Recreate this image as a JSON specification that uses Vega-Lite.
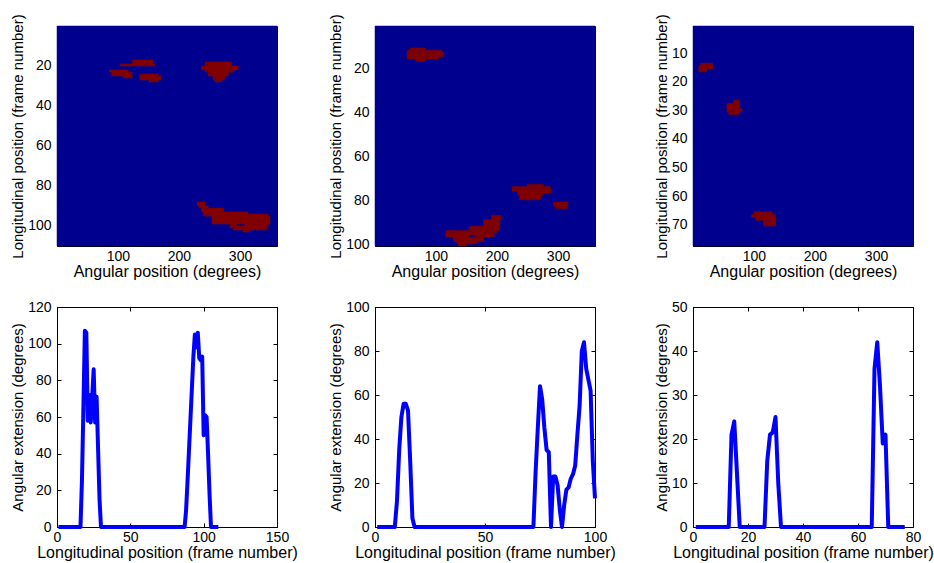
{
"$schema": "https://vega.github.io/schema/vega-lite/v6.json",
"background": "white",
"padding": {"left": 10, "top": 13, "right": 5, "bottom": 5},
"config": {
  "font": "Liberation Sans",
  "view": {"stroke": "#000", "strokeWidth": 1},
  "axis": {"labelFont": "Liberation Sans", "titleFont": "Liberation Sans", "labelFontSize": 14, "titleFontSize": 15, "titleFontWeight": "normal", "labelColor": "#000", "titleColor": "#000", "domainColor": "#000", "tickColor": "#000", "tickSize": -4, "grid": false, "labelFlush": false, "labelOverlap": false},
  "axisX": {"labelPadding": 7, "titlePadding": 0, "titleFontSize": 16},
  "axisY": {"labelPadding": 10, "titlePadding": 2}
},
"datasets": {
  "img1": [
    {"a0":0.5,"a1":360.5,"f0":0.5,"f1":110.5,"v":0},
    {"a0":124,"a1":158,"f0":17.5,"f1":19.5,"v":1},
    {"a0":104,"a1":161,"f0":19.5,"f1":20.5,"v":1},
    {"a0":86,"a1":117,"f0":22.5,"f1":23.5,"v":1},
    {"a0":90,"a1":123,"f0":23.5,"f1":25.5,"v":1},
    {"a0":109,"a1":124,"f0":25.5,"f1":26.5,"v":1},
    {"a0":136,"a1":166,"f0":24.5,"f1":25.5,"v":1},
    {"a0":136,"a1":171,"f0":25.5,"f1":27.5,"v":1},
    {"a0":151,"a1":166,"f0":27.5,"f1":28.5,"v":1},
    {"a0":243,"a1":286,"f0":18.5,"f1":20.5,"v":1},
    {"a0":237,"a1":297,"f0":20.5,"f1":22.5,"v":1},
    {"a0":243,"a1":289,"f0":22.5,"f1":23.5,"v":1},
    {"a0":248,"a1":281,"f0":23.5,"f1":25.5,"v":1},
    {"a0":256,"a1":275,"f0":25.5,"f1":27.5,"v":1},
    {"a0":259,"a1":270,"f0":27.5,"f1":28.5,"v":1},
    {"a0":230,"a1":243,"f0":88.5,"f1":90.5,"v":1},
    {"a0":233,"a1":248,"f0":90.5,"f1":91.5,"v":1},
    {"a0":237,"a1":273,"f0":91.5,"f1":93.5,"v":1},
    {"a0":240,"a1":313,"f0":93.5,"f1":94.5,"v":1},
    {"a0":240,"a1":346,"f0":94.5,"f1":95.5,"v":1},
    {"a0":254,"a1":349,"f0":95.5,"f1":99.5,"v":1},
    {"a0":284,"a1":294,"f0":99.5,"f1":100.5,"v":1},
    {"a0":308,"a1":346,"f0":99.5,"f1":100.5,"v":1},
    {"a0":284,"a1":346,"f0":100.5,"f1":101.5,"v":1},
    {"a0":289,"a1":344,"f0":101.5,"f1":102.5,"v":1},
    {"a0":305,"a1":316,"f0":102.5,"f1":103.5,"v":1}
  ],
  "img2": [
    {"a0":0.5,"a1":360.5,"f0":0.5,"f1":100.5,"v":0},
    {"a0":58,"a1":83,"f0":10.5,"f1":11.5,"v":1},
    {"a0":53,"a1":110,"f0":11.5,"f1":12.5,"v":1},
    {"a0":53,"a1":113,"f0":12.5,"f1":14.5,"v":1},
    {"a0":53,"a1":105,"f0":14.5,"f1":15.5,"v":1},
    {"a0":67,"a1":83,"f0":15.5,"f1":16.5,"v":1},
    {"a0":250,"a1":276,"f0":72.5,"f1":73.5,"v":1},
    {"a0":225,"a1":287,"f0":73.5,"f1":74.5,"v":1},
    {"a0":225,"a1":289,"f0":74.5,"f1":75.5,"v":1},
    {"a0":234,"a1":289,"f0":75.5,"f1":76.5,"v":1},
    {"a0":234,"a1":276,"f0":76.5,"f1":77.5,"v":1},
    {"a0":237,"a1":272,"f0":77.5,"f1":79.5,"v":1},
    {"a0":293,"a1":316,"f0":80.5,"f1":82.5,"v":1},
    {"a0":296,"a1":315,"f0":82.5,"f1":83.5,"v":1},
    {"a0":191,"a1":207,"f0":86.5,"f1":88.5,"v":1},
    {"a0":178,"a1":205,"f0":88.5,"f1":91.5,"v":1},
    {"a0":155,"a1":204,"f0":91.5,"f1":93.5,"v":1},
    {"a0":117,"a1":200,"f0":93.5,"f1":94.5,"v":1},
    {"a0":116,"a1":195,"f0":94.5,"f1":95.5,"v":1},
    {"a0":116,"a1":155,"f0":95.5,"f1":96.5,"v":1},
    {"a0":165,"a1":195,"f0":95.5,"f1":96.5,"v":1},
    {"a0":129,"a1":178,"f0":96.5,"f1":98.5,"v":1},
    {"a0":135,"a1":168,"f0":98.5,"f1":99.5,"v":1},
    {"a0":137,"a1":150,"f0":99.5,"f1":100.5,"v":1}
  ],
  "img3": [
    {"a0":0.5,"a1":360.5,"f0":0.5,"f1":77.5,"v":0},
    {"a0":13,"a1":33,"f0":13.5,"f1":14.5,"v":1},
    {"a0":10,"a1":33,"f0":14.5,"f1":15.5,"v":1},
    {"a0":10,"a1":23,"f0":15.5,"f1":16.5,"v":1},
    {"a0":67,"a1":77,"f0":26.5,"f1":27.5,"v":1},
    {"a0":56,"a1":77,"f0":27.5,"f1":29.5,"v":1},
    {"a0":56,"a1":81,"f0":29.5,"f1":30.5,"v":1},
    {"a0":59,"a1":77,"f0":30.5,"f1":31.5,"v":1},
    {"a0":100,"a1":130,"f0":65.5,"f1":66.5,"v":1},
    {"a0":96,"a1":136,"f0":66.5,"f1":67.5,"v":1},
    {"a0":103,"a1":136,"f0":67.5,"f1":68.5,"v":1},
    {"a0":116,"a1":136,"f0":68.5,"f1":70.5,"v":1}
  ],
  "ext1": [
    {"frame":1,"ext":0},{"frame":2,"ext":0},{"frame":3,"ext":0},{"frame":4,"ext":0},{"frame":5,"ext":0},{"frame":6,"ext":0},{"frame":7,"ext":0},{"frame":8,"ext":0},{"frame":9,"ext":0},{"frame":10,"ext":0},
    {"frame":11,"ext":0},{"frame":12,"ext":0},{"frame":13,"ext":0},{"frame":14,"ext":0},{"frame":15,"ext":0},{"frame":16,"ext":0},{"frame":17,"ext":25},{"frame":18,"ext":65},{"frame":19,"ext":107},{"frame":20,"ext":106},
    {"frame":21,"ext":58},{"frame":22,"ext":72},{"frame":23,"ext":57},{"frame":24,"ext":71},{"frame":25,"ext":86},{"frame":26,"ext":57},{"frame":27,"ext":71},{"frame":28,"ext":43},{"frame":29,"ext":15},{"frame":30,"ext":0},
    {"frame":31,"ext":0},{"frame":32,"ext":0},{"frame":33,"ext":0},{"frame":34,"ext":0},{"frame":35,"ext":0},{"frame":36,"ext":0},{"frame":37,"ext":0},{"frame":38,"ext":0},{"frame":39,"ext":0},{"frame":40,"ext":0},
    {"frame":41,"ext":0},{"frame":42,"ext":0},{"frame":43,"ext":0},{"frame":44,"ext":0},{"frame":45,"ext":0},{"frame":46,"ext":0},{"frame":47,"ext":0},{"frame":48,"ext":0},{"frame":49,"ext":0},{"frame":50,"ext":0},
    {"frame":51,"ext":0},{"frame":52,"ext":0},{"frame":53,"ext":0},{"frame":54,"ext":0},{"frame":55,"ext":0},{"frame":56,"ext":0},{"frame":57,"ext":0},{"frame":58,"ext":0},{"frame":59,"ext":0},{"frame":60,"ext":0},
    {"frame":61,"ext":0},{"frame":62,"ext":0},{"frame":63,"ext":0},{"frame":64,"ext":0},{"frame":65,"ext":0},{"frame":66,"ext":0},{"frame":67,"ext":0},{"frame":68,"ext":0},{"frame":69,"ext":0},{"frame":70,"ext":0},
    {"frame":71,"ext":0},{"frame":72,"ext":0},{"frame":73,"ext":0},{"frame":74,"ext":0},{"frame":75,"ext":0},{"frame":76,"ext":0},{"frame":77,"ext":0},{"frame":78,"ext":0},{"frame":79,"ext":0},{"frame":80,"ext":0},
    {"frame":81,"ext":0},{"frame":82,"ext":0},{"frame":83,"ext":0},{"frame":84,"ext":0},{"frame":85,"ext":0},{"frame":86,"ext":0},{"frame":87,"ext":0},{"frame":88,"ext":9},{"frame":89,"ext":25},{"frame":90,"ext":42},
    {"frame":91,"ext":59},{"frame":92,"ext":76},{"frame":93,"ext":93},{"frame":94,"ext":105},{"frame":95,"ext":98},{"frame":96,"ext":106},{"frame":97,"ext":92},{"frame":98,"ext":91},{"frame":99,"ext":93},{"frame":100,"ext":50},
    {"frame":101,"ext":61},{"frame":102,"ext":60},{"frame":103,"ext":40},{"frame":104,"ext":18},{"frame":105,"ext":0},{"frame":106,"ext":0},{"frame":107,"ext":0},{"frame":108,"ext":0},{"frame":109,"ext":0},{"frame":110,"ext":0}
  ],
  "ext2": [
    {"frame":1,"ext":0},{"frame":2,"ext":0},{"frame":3,"ext":0},{"frame":4,"ext":0},{"frame":5,"ext":0},{"frame":6,"ext":0},{"frame":7,"ext":0},{"frame":8,"ext":0},{"frame":9,"ext":0},{"frame":10,"ext":12},
    {"frame":11,"ext":35},{"frame":12,"ext":50},{"frame":13,"ext":56},{"frame":14,"ext":56},{"frame":15,"ext":53},{"frame":16,"ext":30},{"frame":17,"ext":4},{"frame":18,"ext":0},{"frame":19,"ext":0},{"frame":20,"ext":0},
    {"frame":21,"ext":0},{"frame":22,"ext":0},{"frame":23,"ext":0},{"frame":24,"ext":0},{"frame":25,"ext":0},{"frame":26,"ext":0},{"frame":27,"ext":0},{"frame":28,"ext":0},{"frame":29,"ext":0},{"frame":30,"ext":0},
    {"frame":31,"ext":0},{"frame":32,"ext":0},{"frame":33,"ext":0},{"frame":34,"ext":0},{"frame":35,"ext":0},{"frame":36,"ext":0},{"frame":37,"ext":0},{"frame":38,"ext":0},{"frame":39,"ext":0},{"frame":40,"ext":0},
    {"frame":41,"ext":0},{"frame":42,"ext":0},{"frame":43,"ext":0},{"frame":44,"ext":0},{"frame":45,"ext":0},{"frame":46,"ext":0},{"frame":47,"ext":0},{"frame":48,"ext":0},{"frame":49,"ext":0},{"frame":50,"ext":0},
    {"frame":51,"ext":0},{"frame":52,"ext":0},{"frame":53,"ext":0},{"frame":54,"ext":0},{"frame":55,"ext":0},{"frame":56,"ext":0},{"frame":57,"ext":0},{"frame":58,"ext":0},{"frame":59,"ext":0},{"frame":60,"ext":0},
    {"frame":61,"ext":0},{"frame":62,"ext":0},{"frame":63,"ext":0},{"frame":64,"ext":0},{"frame":65,"ext":0},{"frame":66,"ext":0},{"frame":67,"ext":0},{"frame":68,"ext":0},{"frame":69,"ext":0},{"frame":70,"ext":0},
    {"frame":71,"ext":0},{"frame":72,"ext":0},{"frame":73,"ext":25},{"frame":74,"ext":45},{"frame":75,"ext":64},{"frame":76,"ext":58},{"frame":77,"ext":45},{"frame":78,"ext":35},{"frame":79,"ext":34},{"frame":80,"ext":0},
    {"frame":81,"ext":23},{"frame":82,"ext":23},{"frame":83,"ext":19},{"frame":84,"ext":8},{"frame":85,"ext":0},{"frame":86,"ext":10},{"frame":87,"ext":17},{"frame":88,"ext":18},{"frame":89,"ext":22},{"frame":90,"ext":24},
    {"frame":91,"ext":28},{"frame":92,"ext":42},{"frame":93,"ext":55},{"frame":94,"ext":80},{"frame":95,"ext":84},{"frame":96,"ext":72},{"frame":97,"ext":67},{"frame":98,"ext":62},{"frame":99,"ext":30},{"frame":100,"ext":13}
  ],
  "ext3": [
    {"frame":1,"ext":0},{"frame":2,"ext":0},{"frame":3,"ext":0},{"frame":4,"ext":0},{"frame":5,"ext":0},{"frame":6,"ext":0},{"frame":7,"ext":0},{"frame":8,"ext":0},{"frame":9,"ext":0},{"frame":10,"ext":0},
    {"frame":11,"ext":0},{"frame":12,"ext":0},{"frame":13,"ext":0},{"frame":14,"ext":21},{"frame":15,"ext":24},{"frame":16,"ext":12},{"frame":17,"ext":0},{"frame":18,"ext":0},{"frame":19,"ext":0},{"frame":20,"ext":0},
    {"frame":21,"ext":0},{"frame":22,"ext":0},{"frame":23,"ext":0},{"frame":24,"ext":0},{"frame":25,"ext":0},{"frame":26,"ext":0},{"frame":27,"ext":15},{"frame":28,"ext":21},{"frame":29,"ext":21.5},{"frame":30,"ext":25},
    {"frame":31,"ext":10},{"frame":32,"ext":0},{"frame":33,"ext":0},{"frame":34,"ext":0},{"frame":35,"ext":0},{"frame":36,"ext":0},{"frame":37,"ext":0},{"frame":38,"ext":0},{"frame":39,"ext":0},{"frame":40,"ext":0},
    {"frame":41,"ext":0},{"frame":42,"ext":0},{"frame":43,"ext":0},{"frame":44,"ext":0},{"frame":45,"ext":0},{"frame":46,"ext":0},{"frame":47,"ext":0},{"frame":48,"ext":0},{"frame":49,"ext":0},{"frame":50,"ext":0},
    {"frame":51,"ext":0},{"frame":52,"ext":0},{"frame":53,"ext":0},{"frame":54,"ext":0},{"frame":55,"ext":0},{"frame":56,"ext":0},{"frame":57,"ext":0},{"frame":58,"ext":0},{"frame":59,"ext":0},{"frame":60,"ext":0},
    {"frame":61,"ext":0},{"frame":62,"ext":0},{"frame":63,"ext":0},{"frame":64,"ext":0},{"frame":65,"ext":0},{"frame":66,"ext":36},{"frame":67,"ext":42},{"frame":68,"ext":32},{"frame":69,"ext":19},{"frame":70,"ext":21},
    {"frame":71,"ext":0},{"frame":72,"ext":0},{"frame":73,"ext":0},{"frame":74,"ext":0},{"frame":75,"ext":0},{"frame":76,"ext":0},{"frame":77,"ext":0}
  ]
},
"columns": 3,
"bounds": "flush",
"spacing": {"row": 61, "column": 98},
"concat": [
  {
    "width": 220, "height": 220,
    "data": {"name": "img1"},
    "layer": [
      {"mark": {"type": "rect", "strokeWidth": 0.5},
       "encoding": {
         "x": {"field": "a0", "type": "quantitative", "scale": {"domain": [0.5, 360.5], "nice": false, "zero": false}, "axis": {"values": [100, 200, 300], "title": "Angular position (degrees)"}},
         "x2": {"field": "a1"},
         "y": {"field": "f0", "type": "quantitative", "scale": {"domain": [0.5, 110.5], "reverse": true, "nice": false, "zero": false}, "axis": {"values": [20, 40, 60, 80, 100], "title": "Longitudinal position (frame number)"}},
         "y2": {"field": "f1"},
         "color": {"field": "v", "type": "nominal", "scale": {"domain": [0, 1], "range": ["#00008F", "#800000"]}, "legend": null},
         "stroke": {"field": "v", "type": "nominal", "scale": {"domain": [0, 1], "range": ["#00008F", "#800000"]}, "legend": null}
       }},
      {"mark": {"type": "rect", "opacity": 0},
       "encoding": {
         "x": {"field": "a0", "type": "quantitative", "axis": {"orient": "top", "values": [100, 200, 300], "labels": false, "title": null, "domain": false}},
         "x2": {"field": "a1"},
         "y": {"field": "f0", "type": "quantitative", "axis": {"orient": "right", "values": [20, 40, 60, 80, 100], "labels": false, "title": null, "domain": false}},
         "y2": {"field": "f1"}
       }}
    ],
    "resolve": {"axis": {"x": "independent", "y": "independent"}}
  },
  {
    "width": 220, "height": 220,
    "data": {"name": "img2"},
    "layer": [
      {"mark": {"type": "rect", "strokeWidth": 0.5},
       "encoding": {
         "x": {"field": "a0", "type": "quantitative", "scale": {"domain": [0.5, 360.5], "nice": false, "zero": false}, "axis": {"values": [100, 200, 300], "title": "Angular position (degrees)"}},
         "x2": {"field": "a1"},
         "y": {"field": "f0", "type": "quantitative", "scale": {"domain": [0.5, 100.5], "reverse": true, "nice": false, "zero": false}, "axis": {"values": [20, 40, 60, 80, 100], "title": "Longitudinal position (frame number)"}},
         "y2": {"field": "f1"},
         "color": {"field": "v", "type": "nominal", "scale": {"domain": [0, 1], "range": ["#00008F", "#800000"]}, "legend": null},
         "stroke": {"field": "v", "type": "nominal", "scale": {"domain": [0, 1], "range": ["#00008F", "#800000"]}, "legend": null}
       }},
      {"mark": {"type": "rect", "opacity": 0},
       "encoding": {
         "x": {"field": "a0", "type": "quantitative", "axis": {"orient": "top", "values": [100, 200, 300], "labels": false, "title": null, "domain": false}},
         "x2": {"field": "a1"},
         "y": {"field": "f0", "type": "quantitative", "axis": {"orient": "right", "values": [20, 40, 60, 80, 100], "labels": false, "title": null, "domain": false}},
         "y2": {"field": "f1"}
       }}
    ],
    "resolve": {"axis": {"x": "independent", "y": "independent"}}
  },
  {
    "width": 220, "height": 220,
    "data": {"name": "img3"},
    "layer": [
      {"mark": {"type": "rect", "strokeWidth": 0.5},
       "encoding": {
         "x": {"field": "a0", "type": "quantitative", "scale": {"domain": [0.5, 360.5], "nice": false, "zero": false}, "axis": {"values": [100, 200, 300], "title": "Angular position (degrees)"}},
         "x2": {"field": "a1"},
         "y": {"field": "f0", "type": "quantitative", "scale": {"domain": [0.5, 77.5], "reverse": true, "nice": false, "zero": false}, "axis": {"values": [10, 20, 30, 40, 50, 60, 70], "title": "Longitudinal position (frame number)"}},
         "y2": {"field": "f1"},
         "color": {"field": "v", "type": "nominal", "scale": {"domain": [0, 1], "range": ["#00008F", "#800000"]}, "legend": null},
         "stroke": {"field": "v", "type": "nominal", "scale": {"domain": [0, 1], "range": ["#00008F", "#800000"]}, "legend": null}
       }},
      {"mark": {"type": "rect", "opacity": 0},
       "encoding": {
         "x": {"field": "a0", "type": "quantitative", "axis": {"orient": "top", "values": [100, 200, 300], "labels": false, "title": null, "domain": false}},
         "x2": {"field": "a1"},
         "y": {"field": "f0", "type": "quantitative", "axis": {"orient": "right", "values": [10, 20, 30, 40, 50, 60, 70], "labels": false, "title": null, "domain": false}},
         "y2": {"field": "f1"}
       }}
    ],
    "resolve": {"axis": {"x": "independent", "y": "independent"}}
  },
  {
    "width": 220, "height": 220,
    "data": {"name": "ext1"},
    "layer": [
      {"mark": {"type": "line", "color": "#0000FF", "strokeWidth": 4, "strokeJoin": "round"},
       "encoding": {
         "x": {"field": "frame", "type": "quantitative", "scale": {"domain": [0, 150], "nice": false}, "axis": {"values": [0, 50, 100, 150], "title": "Longitudinal position (frame number)"}},
         "y": {"field": "ext", "type": "quantitative", "scale": {"domain": [0, 120], "nice": false}, "axis": {"values": [0, 20, 40, 60, 80, 100, 120], "title": "Angular extension (degrees)"}}
       }},
      {"mark": {"type": "line", "opacity": 0},
       "encoding": {
         "x": {"field": "frame", "type": "quantitative", "axis": {"orient": "top", "values": [0, 50, 100, 150], "labels": false, "title": null, "domain": false}},
         "y": {"field": "ext", "type": "quantitative", "axis": {"orient": "right", "values": [0, 20, 40, 60, 80, 100, 120], "labels": false, "title": null, "domain": false}}
       }}
    ],
    "resolve": {"axis": {"x": "independent", "y": "independent"}}
  },
  {
    "width": 220, "height": 220,
    "data": {"name": "ext2"},
    "layer": [
      {"mark": {"type": "line", "color": "#0000FF", "strokeWidth": 4, "strokeJoin": "round"},
       "encoding": {
         "x": {"field": "frame", "type": "quantitative", "scale": {"domain": [0, 100], "nice": false}, "axis": {"values": [0, 50, 100], "title": "Longitudinal position (frame number)"}},
         "y": {"field": "ext", "type": "quantitative", "scale": {"domain": [0, 100], "nice": false}, "axis": {"values": [0, 20, 40, 60, 80, 100], "title": "Angular extension (degrees)"}}
       }},
      {"mark": {"type": "line", "opacity": 0},
       "encoding": {
         "x": {"field": "frame", "type": "quantitative", "axis": {"orient": "top", "values": [0, 50, 100], "labels": false, "title": null, "domain": false}},
         "y": {"field": "ext", "type": "quantitative", "axis": {"orient": "right", "values": [0, 20, 40, 60, 80, 100], "labels": false, "title": null, "domain": false}}
       }}
    ],
    "resolve": {"axis": {"x": "independent", "y": "independent"}}
  },
  {
    "width": 220, "height": 220,
    "data": {"name": "ext3"},
    "layer": [
      {"mark": {"type": "line", "color": "#0000FF", "strokeWidth": 4, "strokeJoin": "round"},
       "encoding": {
         "x": {"field": "frame", "type": "quantitative", "scale": {"domain": [0, 80], "nice": false}, "axis": {"values": [0, 20, 40, 60, 80], "title": "Longitudinal position (frame number)"}},
         "y": {"field": "ext", "type": "quantitative", "scale": {"domain": [0, 50], "nice": false}, "axis": {"values": [0, 10, 20, 30, 40, 50], "title": "Angular extension (degrees)"}}
       }},
      {"mark": {"type": "line", "opacity": 0},
       "encoding": {
         "x": {"field": "frame", "type": "quantitative", "axis": {"orient": "top", "values": [0, 20, 40, 60, 80], "labels": false, "title": null, "domain": false}},
         "y": {"field": "ext", "type": "quantitative", "axis": {"orient": "right", "values": [0, 10, 20, 30, 40, 50], "labels": false, "title": null, "domain": false}}
       }}
    ],
    "resolve": {"axis": {"x": "independent", "y": "independent"}}
  }
]
}
